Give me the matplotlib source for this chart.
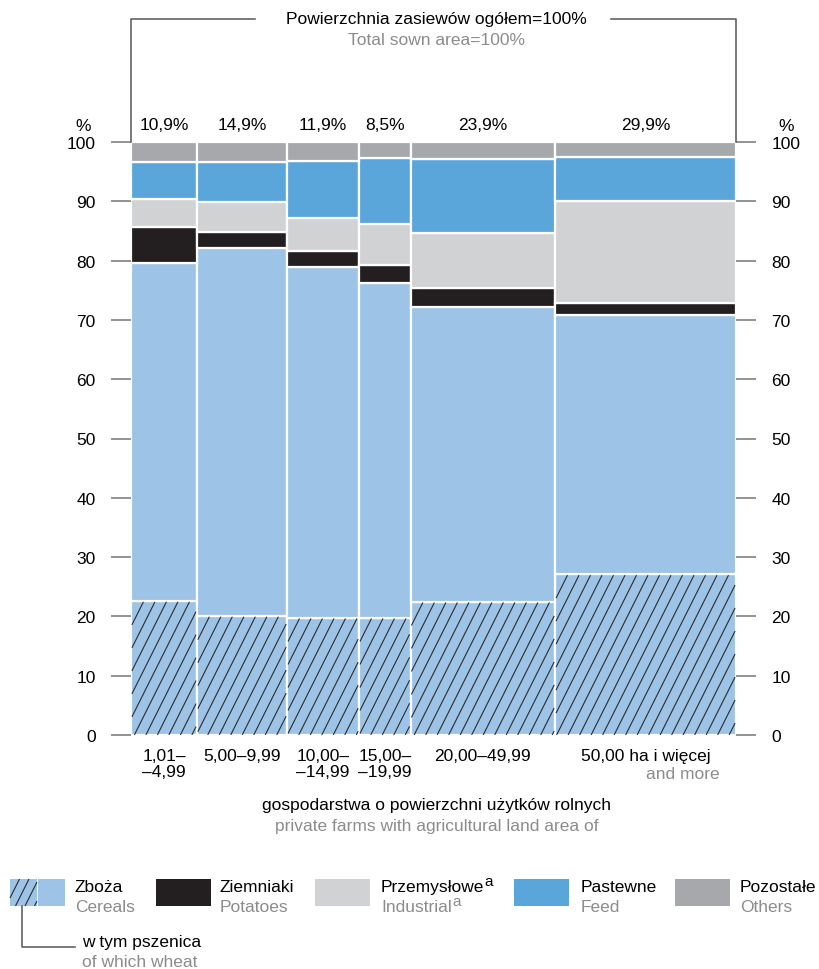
import matplotlib.pyplot as plt
import numpy as np
from matplotlib.patches import Rectangle
from matplotlib.collections import LineCollection

# farm size groups (ha of agricultural land)
groups = ['1,01–\n–4,99', '5,00–9,99', '10,00–\n–14,99', '15,00–\n–19,99', '20,00–49,99', '50,00 ha i więcej']
share = [10.9, 14.9, 11.9, 8.5, 23.9, 29.9]           # share in total sown area, %
share_labels = ['10,9%', '14,9%', '11,9%', '8,5%', '23,9%', '29,9%']

# structure of sown area within each group, %
wheat = [22.6, 20.1, 19.8, 19.8, 22.5, 27.1]
cereals = [79.6, 82.1, 78.9, 76.2, 72.2, 70.9]        # incl. wheat
potatoes = [6.0, 2.8, 2.7, 3.1, 3.1, 1.9]
industrial = [4.8, 5.0, 5.5, 6.9, 9.4, 17.2]
feed = [6.3, 6.8, 9.7, 11.1, 12.5, 7.5]

C_CEREAL = '#9dc3e6'
C_POTATO = '#231f20'
C_INDUS = '#d1d2d4'
C_FEED = '#5aa6da'
C_OTHER = '#a7a8ab'
GRAY_TXT = '#8c8c8c'
LINE = '#808080'

plt.rcParams['font.family'] = ['Liberation Sans Narrow', 'Liberation Sans', 'DejaVu Sans']
FS = 12.5


def hatch_segments(x0, x1, y0, y1, step, rise):
    # diagonal lines x = s + (y - y0) / rise, cut to the rectangle
    segs = []
    for s in np.arange(x0 - (y1 - y0) / rise, x1, step):
        lo = max(y0, y0 + (x0 - s) * rise)
        hi = min(y1, y0 + (x1 - s) * rise)
        if hi - lo > 1e-6:
            segs.append([(s + (lo - y0) / rise, lo), (s + (hi - y0) / rise, hi)])
    return segs


W, H = 820, 970
fig = plt.figure(figsize=(W / 100, H / 100), dpi=100)
ax = fig.add_axes([131 / W, 1 - 736 / H, (736 - 131) / W, (736 - 143) / H])

share = np.array(share)
total = share.sum()
left = np.concatenate([[0], np.cumsum(share)[:-1]])
centers = left + share / 2

cereals = np.array(cereals)
wheat = np.array(wheat)
potatoes = np.array(potatoes)
industrial = np.array(industrial)
feed = np.array(feed)
others = 100 - cereals - potatoes - industrial - feed

rest = cereals - wheat
stack = [(wheat, C_CEREAL), (rest, C_CEREAL), (potatoes, C_POTATO),
         (industrial, C_INDUS), (feed, C_FEED), (others, C_OTHER)]
bottom = np.zeros(len(share))
wheat_bars = None
for vals, col in stack:
    bars = ax.bar(left, vals, width=share, bottom=bottom, align='edge',
                  color=col, edgecolor='white', linewidth=1.6, zorder=2)
    if wheat_bars is None:
        wheat_bars = bars
    bottom = bottom + vals

# steep diagonal hatch on the wheat part
px_x = (736 - 131) / total
px_y = (736 - 143) / 100
step = 11.5 / px_x
rise = 2.0 * px_x / px_y
for b in wheat_bars:
    x0, w, h = b.get_x(), b.get_width(), b.get_height()
    segs = hatch_segments(x0 + 0.15, x0 + w - 0.15, 0, h - 0.15, step, rise)
    ax.add_collection(LineCollection(segs, colors='#2b2b2b', linewidths=0.8, zorder=3))

ax.set_xlim(0, total)
ax.set_ylim(0, 100)
ax.set_xticks([])
ax.set_yticks(range(0, 101, 10))
ax.tick_params(axis='y', left=True, right=True, labelleft=True, labelright=True,
               length=14.5, width=1.2, color=LINE, pad=11, labelsize=FS)
for s in ['left', 'right', 'top', 'bottom']:
    ax.spines[s].set_visible(False)
ax.set_facecolor('none')

ax.text(-7.9, 102.8, '%', ha='center', va='center', fontsize=FS)
ax.text(total + 8.3, 102.8, '%', ha='center', va='center', fontsize=FS)

for c, lab in zip(centers, share_labels):
    ax.text(c, 103.0, lab, ha='center', va='center', fontsize=FS)

# bracket with total sown area
ytop = 100 + (143 - 20) / px_y
ax.plot([0, 0, 20.5], [100, ytop, ytop], color='#555555', lw=1.1, clip_on=False)
ax.plot([79.4, total, total], [ytop, ytop, 100], color='#555555', lw=1.1, clip_on=False)
ax.text(total / 2 + 0.5, ytop, 'Powierzchnia zasiewów ogółem=100%', ha='center', va='center', fontsize=FS)
ax.text(total / 2 + 0.5, ytop - 3.4, 'Total sown area=100%', ha='center', va='center',
        fontsize=FS, color=GRAY_TXT)

# group labels
for c, lab in zip(centers, groups):
    ax.text(c, -2.2, lab, ha='center', va='top', fontsize=FS, linespacing=1.1)
ax.text(centers[-1] + 12.2, -5.3, 'and more', ha='right', va='top', fontsize=FS, color=GRAY_TXT)

ax.text(total / 2 + 0.5, -11.8, 'gospodarstwa o powierzchni użytków rolnych', ha='center',
        va='center', fontsize=FS)
ax.text(total / 2 + 0.5, -15.2, 'private farms with agricultural land area of', ha='center',
        va='center', fontsize=FS, color=GRAY_TXT)

# legend, drawn on an overlay in pixel units
lax = fig.add_axes([0, 0, 1, 1])
lax.set_xlim(0, W)
lax.set_ylim(H, 0)
lax.set_axis_off()

sw_y, sw_h, sw_w = 880, 27, 55
items = [
    (66, C_CEREAL, 'Zboża', 'Cereals', 75),
    (156, C_POTATO, 'Ziemniaki', 'Potatoes', 220),
    (315, C_INDUS, 'Przemysłowe', 'Industrial', 381),
    (514, C_FEED, 'Pastewne', 'Feed', 581),
    (675, C_OTHER, 'Pozostałe', 'Others', 740),
]
texts = {}
for x, col, pl, en, tx in items:
    if pl == 'Zboża':
        lax.add_patch(Rectangle((10, sw_y), 27, sw_h, facecolor=col, edgecolor='none'))
        lax.add_patch(Rectangle((38, sw_y), 27, sw_h, facecolor=col, edgecolor='none'))
        # y axis is flipped on this overlay, mirror the lines to get "/"
        segs = [[(xa, 2 * sw_y + sw_h - ya), (xb, 2 * sw_y + sw_h - yb)]
                for (xa, ya), (xb, yb) in hatch_segments(10, 37, sw_y, sw_y + sw_h, 9.5, 2.0)]
        lax.add_collection(LineCollection(segs, colors='#2b2b2b', linewidths=0.8))
    else:
        lax.add_patch(Rectangle((x, sw_y), sw_w, sw_h, facecolor=col, edgecolor='none'))
    texts[pl] = lax.text(tx, 888, pl, ha='left', va='center', fontsize=FS)
    texts[en] = lax.text(tx, 908, en, ha='left', va='center', fontsize=FS, color=GRAY_TXT)

lax.plot([22, 22, 75], [907, 948, 948], color='#555555', lw=1.1)
lax.text(82, 943, 'w tym pszenica', ha='left', va='center', fontsize=FS)
lax.text(82, 963, 'of which wheat', ha='left', va='center', fontsize=FS, color=GRAY_TXT)

# superscript "a" after the industrial labels
fig.canvas.draw()
for key, col in [('Przemysłowe', 'black'), ('Industrial', GRAY_TXT)]:
    bb = texts[key].get_window_extent()
    lax.text(bb.x1 + 0.5, H - bb.y1 - 5, 'a', ha='left', va='top', fontsize=FS - 1.5, color=col)

fig.savefig('out.png', dpi=100)
